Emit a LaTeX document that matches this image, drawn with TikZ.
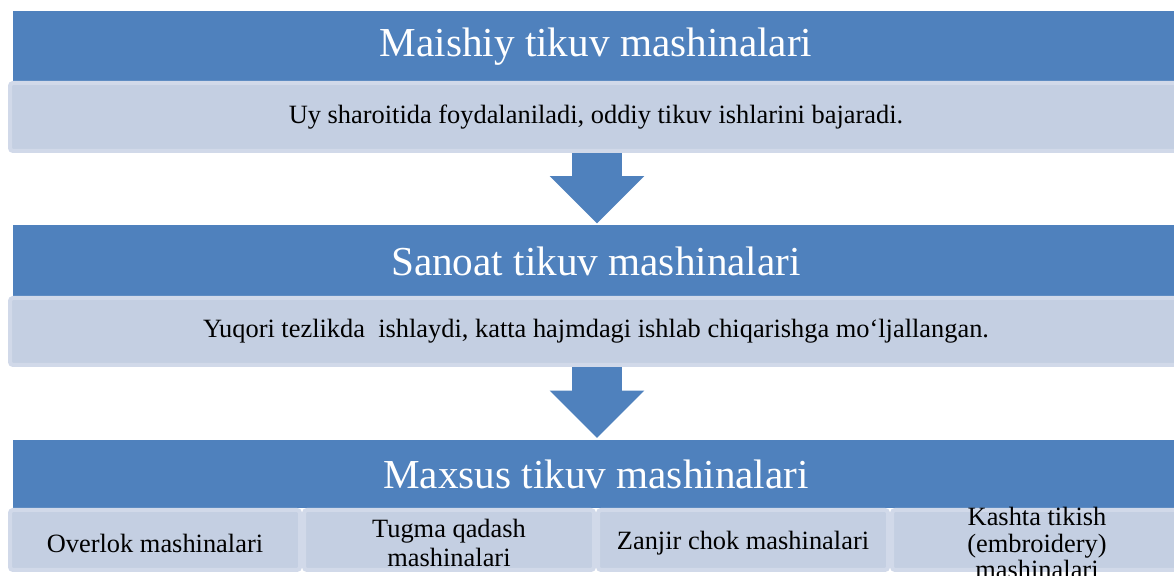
\documentclass[tikz,border=0pt]{standalone}
\usepackage{fontspec}
\setmainfont{Liberation Serif}
\usepackage{tikz}
\usetikzlibrary{shapes.arrows,backgrounds}
\definecolor{headblue}{HTML}{4F81BD}
\definecolor{boxfill}{HTML}{C4CFE2}
\definecolor{boxedge}{HTML}{D1D9E9}

\begin{document}
\begin{tikzpicture}[x=0.5pt, y=-0.5pt, inner sep=0pt,
  head/.style={fill=headblue, text=white, font=\fontsize{20.6}{24}\selectfont, minimum width=583pt},
  info/.style={fill=boxfill, draw=boxedge, line width=2pt, rounded corners=1.5pt, font=\fontsize{13.2}{14.5}\selectfont, minimum width=586pt},
  sub/.style={info, minimum width=145pt, minimum height=30pt, align=center},
  down/.style={single arrow, fill=headblue, rotate=-90, inner xsep=0pt, inner ysep=12.25pt, single arrow head extend=11.25pt}]

\path[use as bounding box] (0,0) rectangle (1174,576);
\clip (0,0) rectangle (1174,576);

\begin{scope}[on background layer]
\node (a1) at (597,173) [down, minimum height=38pt]{};
\node (a2) at (597,388) [down, minimum height=37.5pt]{};
\end{scope}

\node (h1) at (596,46.5) [head, minimum height=35.5pt]{Maishiy tikuv mashinalari};
\node (l1) at (596,117) [info, minimum height=34pt]{Uy sharoitida foydalaniladi, oddiy tikuv ishlarini bajaradi.};

\node (h2) at (596,261) [head, minimum height=36pt]{Sanoat tikuv mashinalari};
\node (l2) at (596,331.5) [info, minimum height=33.5pt]{Yuqori tezlikda\ \ ishlaydi, katta hajmdagi ishlab chiqarishga mo‘ljallangan.};

\node (h3) at (596,474) [head, minimum height=34pt]{Maxsus tikuv mashinalari};
\node (b1) at (155,540) [sub]{};
\node (b1t) at (155,543) [font=\fontsize{13.2}{14.5}\selectfont]{Overlok mashinalari};
\node (b2) at (449,540) [sub]{};
\node (b2t) at (449,543) [font=\fontsize{13.2}{14.5}\selectfont, align=center]{Tugma qadash\\mashinalari};
\node (b3) at (743,540) [sub]{};
\node (b3t) at (743,543) [font=\fontsize{13.2}{14.5}\selectfont]{Zanjir chok mashinalari};
\node (b4) at (1037,540) [sub]{};
\node (b4t) at (1037,543) [font=\fontsize{13.2}{13.2}\selectfont, align=center]{Kashta tikish\\(embroidery)\\mashinalari};

\end{tikzpicture}
\end{document}
